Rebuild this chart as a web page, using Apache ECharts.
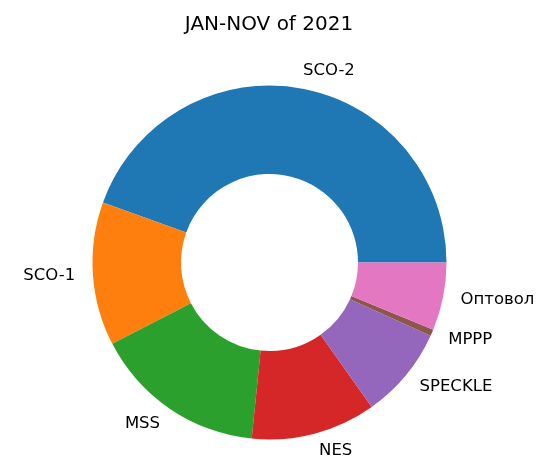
<!DOCTYPE html>
<html>
<head>
<meta charset="utf-8">
<script src="https://cdn.jsdelivr.net/npm/echarts@6/dist/echarts.min.js"></script>
<style>
  html, body { margin: 0; padding: 0; background: #fff; }
  #chart { width: 538px; height: 462px; }
</style>
</head>
<body>
<div id="chart"></div>
<script>
// shares read from the donut (percent)
const labels = ['SCO-2', 'SCO-1', 'MSS', 'NES', 'SPECKLE', 'MPPP', 'Оптовол'];
const values = [44.5, 13.1, 15.8, 11.4, 8.4, 0.6, 6.2];
const colors = ['#1f77b4', '#ff7f0e', '#2ca02c', '#d62728', '#9467bd', '#8c564b', '#e377c2'];

const myChart = echarts.init(document.getElementById('chart'));
myChart.setOption({
  animation: false,
  color: colors,
  title: {
    text: 'JAN-NOV of 2021',
    left: 'center',
    top: 10,
    textStyle: {
      fontFamily: 'DejaVu Sans',
      fontSize: 20,
      fontWeight: 'normal',
      color: '#000'
    }
  },
  series: [
    {
      type: 'pie',
      center: [269.5, 262.5],
      radius: [88.5, 177],
      startAngle: 0,
      clockwise: false,
      avoidLabelOverlap: false,
      minAngle: 0,
      itemStyle: { borderWidth: 0 },
      label: {
        show: true,
        position: 'outside',
        distanceToLabelLine: 0,
        fontFamily: 'DejaVu Sans',
        fontSize: 16.5,
        color: '#000'
      },
      labelLine: { show: false, length: 17.7, length2: 0 },
      emphasis: { disabled: true },
      data: labels.map((name, i) => ({ name: name, value: values[i] }))
    }
  ]
});
</script>
</body>
</html>
